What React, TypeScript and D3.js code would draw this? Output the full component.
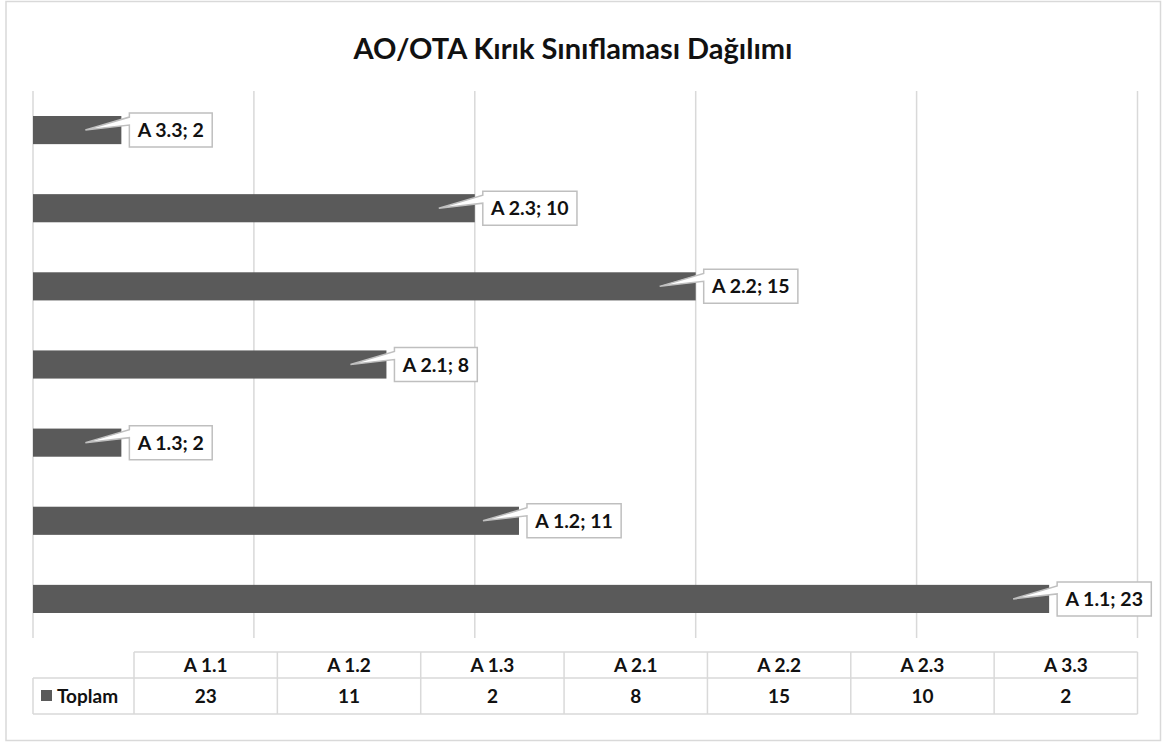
import React from "react";
import * as d3 from "d3";

const categories = ["A 1.1", "A 1.2", "A 1.3", "A 2.1", "A 2.2", "A 2.3", "A 3.3"];
const values = [23, 11, 2, 8, 15, 10, 2];
const xTicks = [0, 5, 10, 15, 20, 25];
const seriesName = "Toplam";
const title = "AO/OTA Kırık Sınıflaması Dağılımı";

const W = 1167;
const H = 742;
const FONT = "Lato, 'Open Sans', sans-serif";
const BAR = "#5a5a5a";
const GRID = "#d9d9d9";
const LABEL_SIZE = 19.5;

let ctx: CanvasRenderingContext2D | null = null;
function measure(s: string, size: number) {
  if (!ctx) ctx = document.createElement("canvas").getContext("2d");
  if (!ctx) return s.length * size * 0.45;
  ctx.font = `bold ${size}px Lato`;
  return ctx.measureText(s).width;
}

export default function App() {
  const plot = { left: 33, right: 1137.5, top: 91, bottom: 638 };
  const x = d3.scaleLinear().domain([0, 25]).range([plot.left, plot.right]);
  const y = d3
    .scaleBand<string>()
    .domain([...categories].reverse())
    .range([plot.top, plot.bottom])
    .paddingInner(0.64)
    .paddingOuter(0.32);

  const table = { left: 33, colStart: 134, right: 1137.5, top: 652, mid: 678, bottom: 714 };
  const col = d3.scaleBand<string>().domain(categories).range([table.colStart, table.right]);

  return (
    <svg
      width={W}
      height={H}
      style={{ position: "absolute", left: 0, top: 0, background: "#fff" }}
      fontFamily={FONT}
    >
      <rect x={6} y={1.5} width={1154.5} height={739} fill="#fff" stroke={GRID} strokeWidth={1.5} />
      <text x={573} y={59} textAnchor="middle" fontSize={29} fontWeight={700} fill="#111">
        {title}
      </text>

      {xTicks.map((t) => (
        <line key={t} x1={x(t)} x2={x(t)} y1={plot.top} y2={plot.bottom} stroke={GRID} strokeWidth={1.5} />
      ))}

      {categories.map((c, i) => (
        <rect key={c} x={x(0)} y={y(c)!} width={x(values[i]) - x(0)} height={y.bandwidth()} fill={BAR} />
      ))}

      {categories.map((c, i) => {
        const label = `${c}; ${values[i]}`;
        const end = x(values[i]);
        const cy = y(c)! + y.bandwidth() / 2;
        const bl = end + 8;
        const bw = measure(label, LABEL_SIZE) + 16;
        const bt = cy - 17;
        const bb = cy + 17;
        const tipX = end - 36;
        const path = `M${bl},${bt} L${bl + bw},${bt} L${bl + bw},${bb} L${bl},${bb} L${bl},${bt + 12} L${tipX},${cy} L${bl},${bt + 4} Z`;
        return (
          <g key={c}>
            <path d={path} fill="#fff" stroke="#bfbfbf" strokeWidth={1.5} />
            <text x={bl + bw / 2} y={cy + 7} textAnchor="middle" fontSize={LABEL_SIZE} fontWeight={700} fill="#111">
              {label}
            </text>
          </g>
        );
      })}

      {/* data table */}
      <g stroke={GRID} strokeWidth={1.5}>
        <line x1={table.colStart} x2={table.right} y1={table.top} y2={table.top} />
        <line x1={table.left} x2={table.right} y1={table.mid} y2={table.mid} />
        <line x1={table.left} x2={table.right} y1={table.bottom} y2={table.bottom} />
        <line x1={table.left} x2={table.left} y1={table.mid} y2={table.bottom} />
        {categories.map((c) => (
          <line key={c} x1={col(c)!} x2={col(c)!} y1={table.top} y2={table.bottom} />
        ))}
        <line x1={table.right} x2={table.right} y1={table.top} y2={table.bottom} />
      </g>
      {categories.map((c, i) => (
        <g key={c} fontWeight={700} fontSize={19} fill="#111" textAnchor="middle">
          <text x={col(c)! + col.bandwidth() / 2} y={(table.top + table.mid) / 2 + 6.5}>
            {c}
          </text>
          <text x={col(c)! + col.bandwidth() / 2} y={(table.mid + table.bottom) / 2 + 7}>
            {values[i]}
          </text>
        </g>
      ))}
      <rect x={41} y={690} width={11} height={11} fill={BAR} />
      <text x={57} y={703} fontSize={19} fontWeight={700} fill="#111">
        {seriesName}
      </text>
    </svg>
  );
}
